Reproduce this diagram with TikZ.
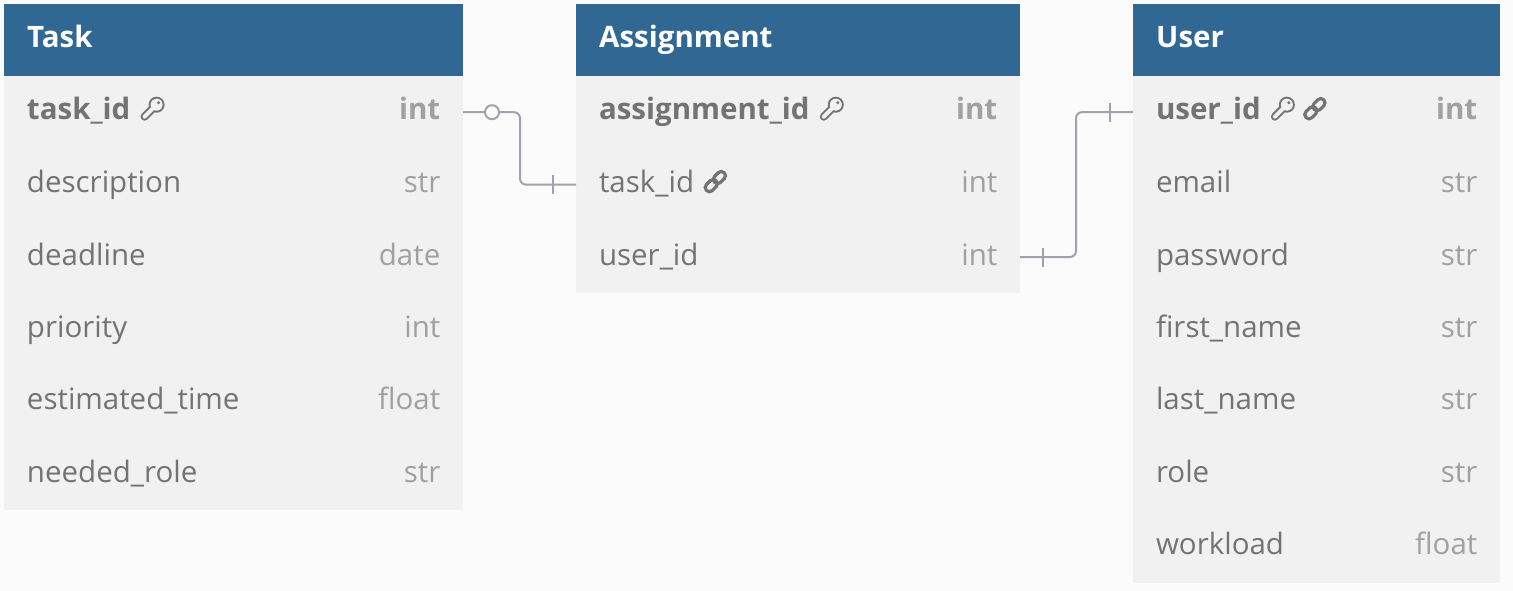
\documentclass[tikz,border=0pt]{standalone}
\usepackage{fontspec}
\setmainfont{Open Sans}
\definecolor{headblue}{HTML}{316893}
\definecolor{rowgray}{HTML}{F1F1F1}
\definecolor{pagegray}{HTML}{FBFBFB}
\definecolor{namegray}{HTML}{737373}
\definecolor{typegray}{HTML}{A0A0A0}
\definecolor{linegray}{HTML}{A2A2AE}
\tikzset{
 headbox/.style={fill=headblue,minimum height=72pt,outer sep=0pt,inner sep=0pt,anchor=north west},
 rowbox/.style={fill=rowgray,minimum height=72.4pt,outer sep=0pt,inner sep=0pt,anchor=north},
 celltext/.style={font=\fontsize{29.5}{30}\selectfont,text height=24pt,text depth=8pt,inner sep=0pt},
 titletext/.style={celltext,font=\fontsize{29.5}{30}\selectfont\bfseries,text=white,anchor=west,xshift=23pt,yshift=.5pt},
 nametext/.style={celltext,text=namegray,anchor=west,xshift=22.8pt},
 typetext/.style={celltext,text=typegray,anchor=east,xshift=-22.5pt},
 keyrow/.style={font=\fontsize{29.5}{30}\selectfont\bfseries,yshift=1pt},
 plainrow/.style={},
 relation/.style={draw=linegray,line width=2pt,rounded corners=6pt},
 onebar/.style={fill=linegray,minimum width=2pt,minimum height=19pt,inner sep=0pt,outer sep=0pt},
 zeroring/.style={circle,draw=linegray,line width=2pt,fill=pagegray,minimum size=14pt,inner sep=0pt},
 pics/keyicon/.style={code={
  \fill[namegray] (4,-4) circle(8pt);
  \draw[namegray,line width=8pt,line cap=round] (0,0) -- (-8,8);
  \fill[rowgray] (4,-4) circle(6pt);
  \draw[rowgray,line width=4pt,line cap=round] (0,0) -- (-8,8);
  \fill[namegray] (6,-6) circle(1.7pt);
 }},
 pics/chainicon/.style={code={
  \draw[namegray,line width=3.2pt,rounded corners=4pt,rotate=45] (-12.5,-4.2) rectangle (1,4.2);
  \draw[namegray,line width=3.2pt,rounded corners=4pt,rotate=45] (-1,-4.2) rectangle (12.5,4.2);
 }},
}
\begin{document}
\begin{tikzpicture}[x=1pt,y=-1pt]
\useasboundingbox[fill=pagegray] (0,0) rectangle (1513,591);
\node at(4,4)[headbox,minimum width=459pt](t0){} node at(t0.west)[titletext]{Task};
\foreach \n/\y/\s[count=\i from 1,evaluate=\i as\j using int(\i-1)] in {
 task\_id/int/keyrow,description/str/plainrow,deadline/date/plainrow,priority/int/plainrow,
 estimated\_time/float/plainrow,needed\_role/str/plainrow}
\node at(t\j.south)[rowbox,minimum width=459pt](t\i){}
    node at(t\i.west)[nametext,\s](tn\i){\n}
    node at(t\i.east)[typetext,\s]{\y};
\node at(576,4)[headbox,minimum width=444pt](a0){} node at(a0.west)[titletext]{Assignment};
\foreach \n/\y/\s[count=\i from 1,evaluate=\i as\j using int(\i-1)] in {
 assignment\_id/int/keyrow,task\_id/int/plainrow,user\_id/int/plainrow}
\node at(a\j.south)[rowbox,minimum width=444pt](a\i){}
    node at(a\i.west)[nametext,\s](an\i){\n}
    node at(a\i.east)[typetext,\s]{\y};
\node at(1133,4)[headbox,minimum width=367pt](u0){} node at(u0.west)[titletext]{User};
\foreach \n/\y/\s[count=\i from 1,evaluate=\i as\j using int(\i-1)] in {
 user\_id/int/keyrow,email/str/plainrow,password/str/plainrow,first\_name/str/plainrow,
 last\_name/str/plainrow,role/str/plainrow,workload/float/plainrow}
\node at(u\j.south)[rowbox,minimum width=367pt](u\i){}
    node at(u\i.west)[nametext,\s](un\i){\n}
    node at(u\i.east)[typetext,\s]{\y};
\pic at([xshift=22pt,yshift=2.5pt]tn1.east){keyicon};
\pic at([xshift=22pt,yshift=2.5pt]an1.east){keyicon};
\pic at([xshift=22pt,yshift=2.5pt]un1.east){keyicon};
\pic at([xshift=54pt,yshift=2.5pt]un1.east){chainicon};
\pic at([xshift=21pt,yshift=3pt]an2.east){chainicon};
\coordinate (m1) at(520,0);
\coordinate (m2) at(1076,0);
\draw[relation] (t1.east) -- (m1|-t1.east) -- (m1|-a2.west) -- (a2.west);
\draw[relation] (a3.east) -- (m2|-a3.east) -- (m2|-u1.west) -- (u1.west);
\node[zeroring] at(492,0|-t1.east)(r1){};
\node[onebar] at(553,0|-a2.west)(b1){};
\node[onebar] at(1043,0|-a3.east)(b2){};
\node[onebar] at(1110,0|-u1.west)(b3){};
\end{tikzpicture}
\end{document}
